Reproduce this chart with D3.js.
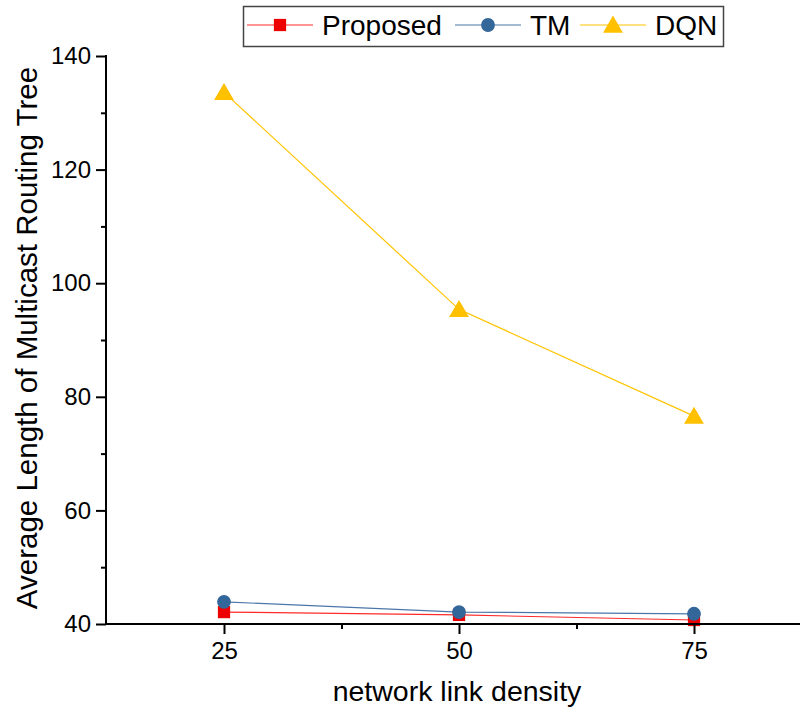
<!DOCTYPE html>
<html>
<head>
<meta charset="utf-8">
<script src="https://cdn.jsdelivr.net/npm/d3@7"></script>
<style>
  html, body { margin: 0; padding: 0; background: #fff; }
  svg { display: block; font-family: Arial, "Liberation Sans", sans-serif; }
</style>
</head>
<body>
<svg id="chart" width="800" height="713"></svg>
<script>
// Link density values on the x axis
const densities = [25, 50, 75];
// Average multicast routing tree length for each method
const proposed = [42.1, 41.6, 40.7];
const tm = [43.9, 42.1, 41.8];
const dqn = [133.6, 95.4, 76.6];

const xMajorTicks = [25, 50, 75];
const xMinorTicks = [37.5, 62.5];
const yMajorTicks = [40, 60, 80, 100, 120, 140];
const yMinorTicks = [50, 70, 90, 110, 130];

const seriesNames = ["Proposed", "TM", "DQN"];

const svg = d3.select("#chart");
const axisLeft = 106, axisBottom = 624, axisTop = 56, axisRight = 800;

const x = d3.scaleLinear().domain([25, 75]).range([224, 694]);
const y = d3.scaleLinear().domain([40, 140]).range([axisBottom, axisTop]);

const series = [
  { name: seriesNames[0], values: proposed, line: "#ff2a2a", fill: "#ee0000", shape: "square" },
  { name: seriesNames[1], values: tm, line: "#4a76a8", fill: "#336699", shape: "circle" },
  { name: seriesNames[2], values: dqn, line: "#ffc400", fill: "#ffc000", shape: "triangle" }
];

const symbolFor = {
  square: d3.symbol().type(d3.symbolSquare).size(150),
  circle: d3.symbol().type(d3.symbolCircle).size(150),
  triangle: d3.symbol().type(d3.symbolTriangle).size(170)
};

// Series lines and markers
const line = d3.line().x(d => x(d[0])).y(d => y(d[1]));
series.forEach(s => {
  const pts = densities.map((d, i) => [d, s.values[i]]);
  svg.append("path")
    .attr("d", line(pts))
    .attr("fill", "none")
    .attr("stroke", s.line)
    .attr("stroke-width", 1.2);
  svg.append("g").selectAll("path")
    .data(pts)
    .join("path")
    .attr("d", symbolFor[s.shape])
    .attr("transform", d => `translate(${x(d[0])},${y(d[1]) + (s.shape === "triangle" ? 2 : 0)})`)
    .attr("fill", s.fill);
});

// X axis
const xAxisG = svg.append("g").attr("transform", `translate(0,${axisBottom})`);
xAxisG.append("line")
  .attr("x1", axisLeft).attr("x2", axisRight)
  .attr("stroke", "#000").attr("stroke-width", 2);
const xMajor = xAxisG.append("g")
  .call(d3.axisBottom(x).tickValues(xMajorTicks).tickSize(10).tickPadding(8).tickFormat(d3.format("d")));
xMajor.select(".domain").remove();
xMajor.selectAll(".tick line").attr("stroke", "#000").attr("stroke-width", 2);
xMajor.selectAll(".tick text").attr("font-size", 24).attr("fill", "#000")
  .attr("font-family", "Arial, 'Liberation Sans', sans-serif");
const xMinor = xAxisG.append("g")
  .call(d3.axisBottom(x).tickValues(xMinorTicks).tickSize(5).tickFormat(""));
xMinor.select(".domain").remove();
xMinor.selectAll(".tick line").attr("stroke", "#000").attr("stroke-width", 2);

// Y axis
const yAxisG = svg.append("g").attr("transform", `translate(${axisLeft},0)`);
yAxisG.append("line")
  .attr("y1", axisTop - 1).attr("y2", axisBottom + 1)
  .attr("stroke", "#000").attr("stroke-width", 2);
const yMajor = yAxisG.append("g")
  .call(d3.axisLeft(y).tickValues(yMajorTicks).tickSize(10).tickPadding(5).tickFormat(d3.format("d")));
yMajor.select(".domain").remove();
yMajor.selectAll(".tick line").attr("stroke", "#000").attr("stroke-width", 2);
yMajor.selectAll(".tick text").attr("font-size", 24).attr("fill", "#000")
  .attr("font-family", "Arial, 'Liberation Sans', sans-serif");
const yMinor = yAxisG.append("g")
  .call(d3.axisLeft(y).tickValues(yMinorTicks).tickSize(5).tickFormat(""));
yMinor.select(".domain").remove();
yMinor.selectAll(".tick line").attr("stroke", "#000").attr("stroke-width", 2);

// Axis titles
svg.append("text")
  .attr("x", 457).attr("y", 701)
  .attr("text-anchor", "middle")
  .attr("font-size", 28.5)
  .attr("fill", "#000")
  .text("network link density");

svg.append("text")
  .attr("transform", "translate(37,338) rotate(-90)")
  .attr("text-anchor", "middle")
  .attr("font-size", 29.5)
  .attr("fill", "#000")
  .text("Average Length of Multicast Routing Tree");

// Legend
const legend = svg.append("g");
legend.append("rect")
  .attr("x", 243.5).attr("y", 6.5).attr("width", 480).attr("height", 40)
  .attr("fill", "#fff").attr("stroke", "#444").attr("stroke-width", 1.5);
const legendItems = [
  { x0: 247, text: 322 },
  { x0: 455, text: 530 },
  { x0: 580, text: 655 }
];
series.forEach((s, i) => {
  const it = legendItems[i];
  const cy = 25;
  legend.append("line")
    .attr("x1", it.x0).attr("x2", it.x0 + 66)
    .attr("y1", cy).attr("y2", cy)
    .attr("stroke", s.line).attr("stroke-width", 1.2);
  legend.append("path")
    .attr("d", symbolFor[s.shape])
    .attr("transform", `translate(${it.x0 + 33},${cy + (s.shape === "triangle" ? 2 : 0)})`)
    .attr("fill", s.fill);
  legend.append("text")
    .attr("x", it.text).attr("y", cy + 10)
    .attr("font-size", 28)
    .attr("fill", "#000")
    .text(s.name);
});
</script>
</body>
</html>
